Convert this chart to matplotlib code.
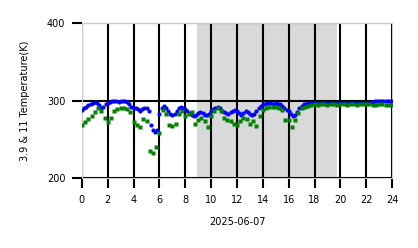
import numpy as np
import matplotlib.pyplot as plt

# brightness temperatures, 2025-06-07
# 3.9 um, every 10 min
t39 = np.arange(145) / 6.0
tb39 = [
    288, 290, 292, 294, 296, 297,
    298, 297, 294, 290, 292, 295,
    297, 298, 299, 300, 299, 298,
    299, 300, 299, 298, 296, 292,
    290, 291, 289, 287, 289, 291,
    290, 286, 268, 262, 259, 262,
    283, 291, 293, 290, 287, 283,
    281, 283, 287, 291, 292, 291,
    289, 286, 284, 282, 280, 281,
    284, 285, 284, 282, 281, 283,
    286, 289, 291, 292, 290, 287,
    285, 284, 283, 285, 287, 288,
    286, 284, 282, 284, 286, 285,
    283, 281, 283, 286, 290, 293,
    295, 296, 297, 297, 297, 296,
    297, 296, 295, 293, 290, 288,
    286, 283, 280, 281, 285, 290,
    293, 295, 296, 297, 297, 297,
    297, 297, 297, 297, 297, 297,
    297, 297, 297, 297, 297, 297,
    297, 297, 297, 297, 297, 297,
    297, 297, 297, 297, 297, 297,
    297, 297, 298, 298, 299, 299,
    300, 300, 300, 300, 300, 300,
    300,
]

# 11 um, every 15 min
t11 = np.arange(97) / 4.0
tb11 = [
    268, 272, 276, 280,
    285, 290, 286, 278,
    272, 278, 286, 289,
    290, 291, 289, 285,
    272, 268, 266, 276,
    273, 235, 232, 240,
    258, 288, 283, 268,
    267, 270, 283, 286,
    280, 283, 285, 270,
    275, 277, 274, 266,
    280, 286, 290, 287,
    278, 275, 273, 270,
    268, 273, 278, 276,
    270, 274, 267, 280,
    288, 291, 292, 292,
    292, 291, 288, 275,
    275, 266, 275, 284,
    290, 292, 293, 294,
    295, 294, 295, 295,
    294, 295, 295, 294,
    295, 295, 294, 295,
    295, 294, 295, 295,
    295, 295, 294, 294,
    295, 295, 294, 294,
    294,
]

night = (8.9, 19.75)
xticks = np.arange(0, 25, 2)
yticks = [200, 300, 400]

fig = plt.figure(figsize=(4.18, 2.48), dpi=100)
ax = fig.add_axes([0.196, 0.282, 0.742, 0.625])

ax.axvspan(night[0], night[1], facecolor='#d9d9d9', edgecolor='none', zorder=0)
# grid drawn by hand, the built-in one went missing over the span
for x in xticks:
    ax.axvline(x, color='black', lw=1.5, zorder=1)
for y in yticks:
    ax.axhline(y, color='black', lw=1.5, zorder=1)
ax.plot(t39, tb39, 'o', color='blue', ms=3.0, mec='none', zorder=3)
ax.plot(t11, tb11, 's', color='green', ms=2.6, mec='none', zorder=4)

ax.set_xlim(0, 24)
ax.set_ylim(200, 400)
ax.set_xticks(xticks)
ax.set_yticks(yticks)
ax.tick_params(length=7, width=1.5, labelsize=7, pad=5)
for s in ax.spines.values():
    s.set_color('#cccccc')
    s.set_linewidth(0.8)

ax.set_xlabel('2025-06-07', fontsize=7, labelpad=9)
ax.set_ylabel('3.9 & 11 Temperature(K)', fontsize=7, labelpad=12)

fig.savefig('out.png', dpi=100)
